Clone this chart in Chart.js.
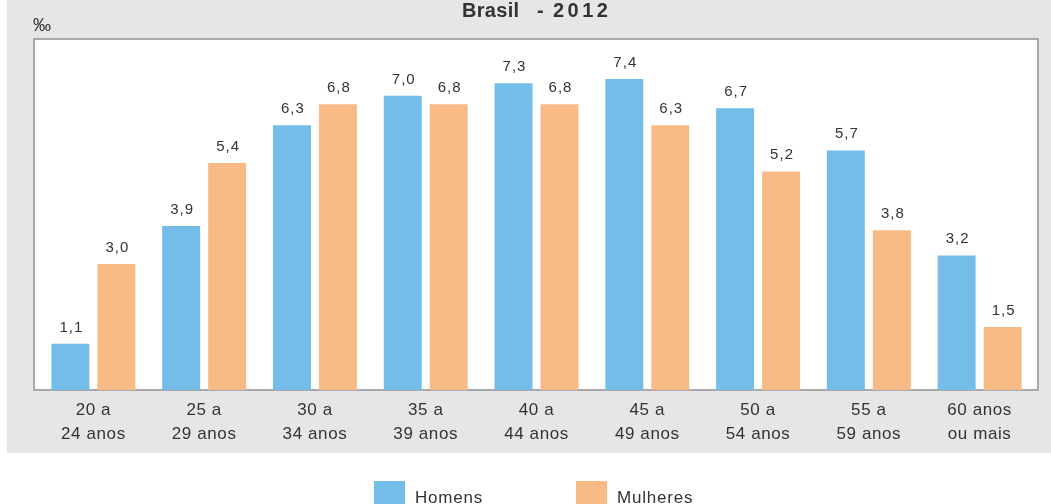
<!DOCTYPE html>
<html><head><meta charset="utf-8">
<script src="https://cdn.jsdelivr.net/npm/chart.js@4/dist/chart.umd.min.js"></script>
<style>html,body{margin:0;padding:0;background:#fff;}#wrap{width:1051px;height:504px;position:relative;}</style>
</head><body><div id="wrap"><canvas id="c" width="1051" height="504"></canvas></div>
<script>
const categories = [["20 a","24 anos"],["25 a","29 anos"],["30 a","34 anos"],["35 a","39 anos"],["40 a","44 anos"],["45 a","49 anos"],["50 a","54 anos"],["55 a","59 anos"],["60 anos","ou mais"]];
const homens = [1.1, 3.9, 6.3, 7.0, 7.3, 7.4, 6.7, 5.7, 3.2];
const mulheres = [3.0, 5.4, 6.8, 6.8, 6.8, 6.3, 5.2, 3.8, 1.5];
const seriesNames = ["Homens", "Mulheres"];
const titleParts = ["Brasil", "-", "2012"];
const unitLabel = "‰";

const BLUE = "#74BDE8", ORANGE = "#F9BB85", TXT = "#333333";

const deco = {
  id: 'deco',
  beforeDraw(chart) {
    const ctx = chart.ctx;
    ctx.save();
    ctx.fillStyle = "#E5E6E8";
    ctx.fillRect(7, 0, 1044, 453);
    ctx.fillStyle = "#FFFFFF";
    ctx.fillRect(34, 39, 1004, 351);
    ctx.strokeStyle = "#A9A9AB";
    ctx.lineWidth = 2;
    ctx.strokeRect(34, 39, 1004, 351);
    // title
    ctx.fillStyle = TXT;
    ctx.textBaseline = "alphabetic";
    ctx.font = "bold 20px 'Liberation Sans', Arial, sans-serif";
    ctx.textAlign = "left";
    ctx.letterSpacing = "0.3px";
    ctx.fillText(titleParts[0], 462, 17);
    ctx.fillText(titleParts[1], 537, 17);
    ctx.letterSpacing = "3.5px";
    ctx.fillText(titleParts[2], 553, 17);
    // unit
    ctx.letterSpacing = "0px";
    ctx.font = "18px 'Liberation Sans', Arial, sans-serif";
    ctx.fillText(unitLabel, 33, 31);
    // legend
    ctx.font = "17px 'Liberation Sans', Arial, sans-serif";
    ctx.letterSpacing = "0.8px";
    const items = [[374, BLUE, seriesNames[0]], [576, ORANGE, seriesNames[1]]];
    for (const [x, col, name] of items) {
      ctx.fillStyle = col;
      ctx.fillRect(x, 481, 31, 30);
      ctx.fillStyle = TXT;
      ctx.fillText(name, x + 41, 503);
    }
    ctx.restore();
    ctx.letterSpacing = "0.6px";
  },
  afterDatasetsDraw(chart) {
    const ctx = chart.ctx;
    ctx.save();
    ctx.font = "15px 'Liberation Sans', Arial, sans-serif";
    ctx.letterSpacing = "1px";
    ctx.fillStyle = TXT;
    ctx.textAlign = "center";
    ctx.textBaseline = "alphabetic";
    chart.data.datasets.forEach((ds, di) => {
      const meta = chart.getDatasetMeta(di);
      meta.data.forEach((bar, i) => {
        const s = ds.data[i].toFixed(1).replace(".", ",");
        ctx.fillText(s, bar.x + 1, bar.y - 12);
      });
    });
    ctx.restore();
  }
};

new Chart(document.getElementById('c'), {
  type: 'bar',
  data: {
    labels: categories,
    datasets: [
      { label: seriesNames[0], data: homens, backgroundColor: BLUE, borderWidth: 0, inflateAmount: 0, categoryPercentage: 0.83, barPercentage: 0.826 },
      { label: seriesNames[1], data: mulheres, backgroundColor: ORANGE, borderWidth: 0, inflateAmount: 0, categoryPercentage: 0.83, barPercentage: 0.826 }
    ]
  },
  options: {
    responsive: false,
    animation: false,
    devicePixelRatio: 1,
    layout: { padding: { left: 38, right: 16, top: 39, bottom: 0 } },
    plugins: { legend: { display: false }, title: { display: false }, tooltip: { enabled: false } },
    scales: {
      x: {
        grid: { display: false, drawTicks: false },
        border: { display: false },
        ticks: {
          color: TXT,
          padding: 8,
          maxRotation: 0,
          autoSkip: false,
          font: { family: "'Liberation Sans', Arial, sans-serif", size: 17, lineHeight: 1.41 }
        },
        afterFit(scale) { scale.height = 114; }
      },
      y: { display: false, min: 0, max: 8.35 }
    }
  },
  plugins: [deco]
});
</script></body></html>
